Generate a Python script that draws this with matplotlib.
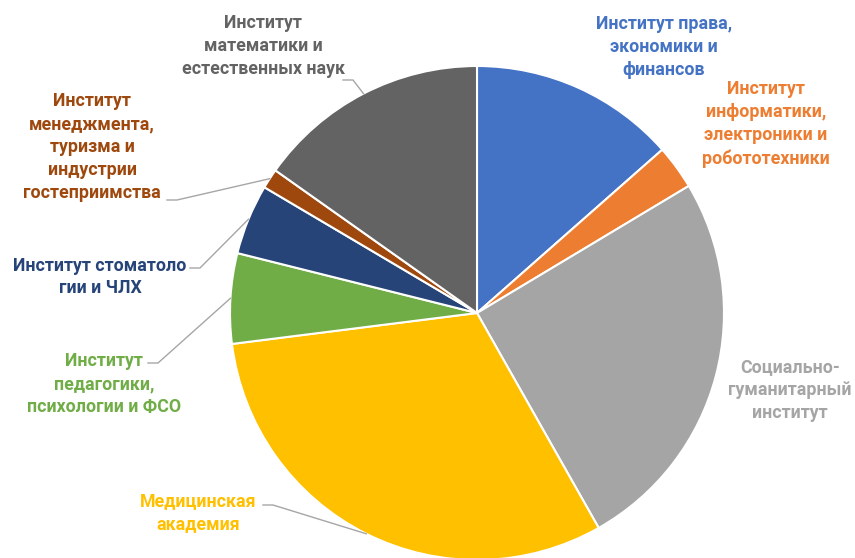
import numpy as np
import matplotlib.pyplot as plt

labels = ["Институт права,\nэкономики и\nфинансов",
          "Институт\nинформатики,\nэлектроники и\nробототехники",
          "Социально-\nгуманитарный\nинститут",
          "Медицинская\nакадемия",
          "Институт\nпедагогики,\nпсихологии и ФСО",
          "Институт стоматоло\nгии и ЧЛХ",
          "Институт\nменеджмента,\nтуризма и\nиндустрии\nгостеприимства",
          "Институт\nматематики и\nестественных наук"]
shares = [13.5, 2.9, 25.4, 31.2, 5.9, 4.6, 1.3, 15.2]
colors = ["#4472C4", "#ED7D31", "#A5A5A5", "#FFC000",
          "#70AD47", "#264478", "#9E480E", "#636363"]

# label centres in pixel coords (y from top)
label_pos = [(664, 47), (766, 124), (790, 390), (198, 513),
             (104, 384), (100, 277), (92, 147), (263, 46)]
leader_from = [None, None, None, (263, 505), (148, 363), (190, 268), (167, 200), (343, 80)]

W, H = 855, 558
cx, cy, r = 477, 313, 247

plt.rcParams['font.family'] = ['Roboto', 'DejaVu Sans']
fig = plt.figure(figsize=(W / 100, H / 100), dpi=100)
ax = fig.add_axes([0, 0, 1, 1])

wedges, _ = ax.pie(shares, colors=colors, startangle=90, counterclock=False,
                   center=(cx, H - cy), radius=r,
                   wedgeprops=dict(edgecolor='white', linewidth=1.5))
ax.set_xlim(0, W)
ax.set_ylim(0, H)
ax.set_aspect('equal')
ax.axis('off')

for i, w in enumerate(wedges):
    lx, ly = label_pos[i]
    ax.text(lx, H - ly, labels[i], ha='center', va='center', color=colors[i],
            fontsize=12.8, fontweight='bold', linespacing=1.35)
    if leader_from[i] is not None:
        mid = np.deg2rad((w.theta1 + w.theta2) / 2)
        ex = cx + r * np.cos(mid)
        ey = (H - cy) + r * np.sin(mid)
        sx, sy = leader_from[i]
        ax.plot([sx, sx + 10, ex], [H - sy, H - sy, ey], color='#A6A6A6', lw=1)

fig.savefig('out.png', dpi=100)
